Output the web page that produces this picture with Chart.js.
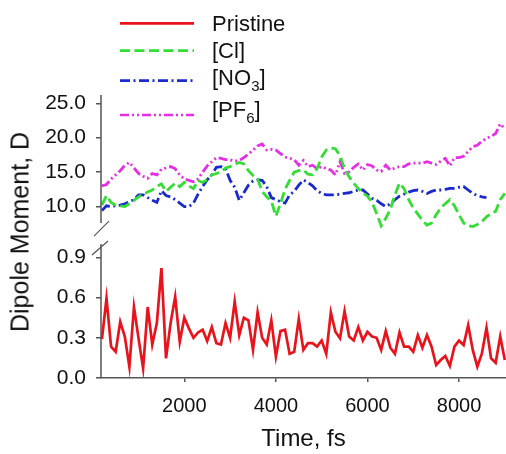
<!DOCTYPE html>
<html>
<head>
<meta charset="utf-8">
<script src="https://cdn.jsdelivr.net/npm/chart.js@4/dist/chart.umd.min.js"></script>
<style>
  html, body { margin: 0; padding: 0; background: #fff; }
  #wrap { position: relative; width: 506px; height: 454px; overflow: hidden; font-family: "Liberation Sans", Arial, sans-serif; color: #111; }
  #c { position: absolute; left: 0; top: 0; }
  .lg { position: absolute; left: 212px; font-size: 22px; line-height: 22px; white-space: nowrap; }
  .lg sub { font-size: 15px; line-height: 0; vertical-align: -6px; }
  #ytitle { position: absolute; left: 20px; top: 232px; transform: translate(-50%, -50%) rotate(-90deg); font-size: 25px; white-space: nowrap; }
  #lgsvg { position: absolute; left: 0; top: 0; }
</style>
</head>
<body>
<div id="wrap">
  <canvas id="c" width="506" height="454"></canvas>
  <svg id="lgsvg" width="506" height="140"></svg>
  <div id="legend"></div>
  <div id="ytitle">Dipole Moment, D</div>
</div>
<script>
// ---------- data ----------
const times = [
  200, 300, 400, 500, 600, 700, 800, 900, 1000, 1100,
  1200, 1300, 1400, 1500, 1600, 1700, 1800, 1900, 2000, 2100,
  2200, 2300, 2400, 2500, 2600, 2700, 2800, 2900, 3000, 3100,
  3200, 3300, 3400, 3500, 3600, 3700, 3800, 3900, 4000, 4100,
  4200, 4300, 4400, 4500, 4600, 4700, 4800, 4900, 5000, 5100,
  5200, 5300, 5400, 5500, 5600, 5700, 5800, 5900, 6000, 6100,
  6200, 6300, 6400, 6500, 6600, 6700, 6800, 6900, 7000, 7100,
  7200, 7300, 7400, 7500, 7600, 7700, 7800, 7900, 8000, 8100,
  8200, 8300, 8400, 8500, 8600, 8700, 8800, 8900, 9000
];
const pristine = [
  0.29, 0.595, 0.234, 0.196, 0.42, 0.31, 0.084, 0.53, 0.296, 0.072,
  0.53, 0.25, 0.41, 0.82, 0.147, 0.41, 0.607, 0.27, 0.45, 0.37,
  0.30, 0.34, 0.36, 0.276, 0.38, 0.26, 0.25, 0.41, 0.30, 0.57,
  0.32, 0.45, 0.43, 0.21, 0.49, 0.30, 0.25, 0.43, 0.16, 0.35,
  0.36, 0.18, 0.196, 0.44, 0.21, 0.26, 0.26, 0.234, 0.28, 0.18,
  0.49, 0.345, 0.296, 0.50, 0.31, 0.28, 0.38, 0.28, 0.345, 0.31,
  0.30, 0.21, 0.35, 0.226, 0.18, 0.34, 0.234, 0.234, 0.196, 0.32,
  0.226, 0.32, 0.234, 0.097, 0.134, 0.164, 0.09, 0.234, 0.28, 0.246,
  0.395, 0.21, 0.084, 0.184, 0.375, 0.147, 0.114, 0.31, 0.134
];
const cl = [
  10.2, 11.6, 10.6, 10.2, 10.1, 10.0, 10.4, 10.9, 11.4, 11.8,
  12.1, 12.4, 12.9, 13.3, 12.2, 12.8, 13.4, 12.9, 13.5, 13.0,
  12.6, 13.8, 13.5, 13.9, 14.6, 14.8, 15.0, 15.6, 15.8, 16.1,
  16.4, 16.2, 15.2, 14.5, 14.0, 12.2, 11.4, 10.8, 8.6, 10.4,
  12.5, 13.8, 15.0, 15.2, 15.3, 14.7, 14.6, 15.5, 17.2, 18.2,
  18.5, 18.4, 17.4, 15.5, 14.3, 13.4, 12.6, 12.0, 11.5, 10.6,
  9.0, 7.2, 8.3, 9.6, 11.7, 13.4, 12.6, 11.0, 9.8, 8.9,
  8.0, 7.3, 7.6, 8.8, 9.8, 10.4, 11.0, 10.1, 8.8, 7.6,
  7.2, 7.1, 7.4, 7.8, 8.5, 9.0, 9.3, 11.0, 11.9
];
const no3 = [
  9.4, 10.1, 10.0, 10.1, 10.2, 10.4, 10.7, 11.0, 11.7, 11.7,
  11.3, 10.9, 10.6, 12.3, 11.6, 11.4, 11.0, 10.5, 10.0, 10.0,
  10.5, 11.8, 12.9, 13.9, 14.6, 15.7, 15.8, 15.5, 13.8, 12.8,
  10.9, 12.0, 13.1, 13.7, 13.85, 13.8, 12.9, 11.3, 11.0, 10.7,
  10.5, 11.7, 12.2, 13.1, 13.85, 13.5, 13.0, 12.3, 11.9, 11.7,
  11.7, 11.7, 11.8, 11.9, 12.0, 12.2, 12.4, 12.4, 11.8, 11.2,
  10.9, 10.4, 10.0, 10.4, 11.0, 11.5, 11.8, 12.1, 12.3, 12.4,
  12.2, 11.9, 12.2, 12.4, 12.4, 12.5, 12.65, 12.65, 12.8, 12.9,
  12.4, 11.9, 11.6, 11.4, 11.3
];
const pf6 = [
  13.0, 13.2, 14.0, 14.6, 15.2, 16.0, 16.4, 15.6, 14.8, 14.4,
  14.1, 14.8, 14.6, 15.4, 15.6, 15.8, 15.5, 14.6, 14.0, 13.8,
  13.6, 14.0, 15.0, 15.9, 16.5, 17.1, 17.0, 16.8, 16.8, 16.6,
  16.7, 17.1, 17.6, 18.2, 18.8, 19.1, 18.2, 18.3, 18.2, 17.7,
  17.2, 17.0, 16.8, 16.0, 16.7, 15.8, 16.0, 15.5, 15.8, 15.5,
  15.3, 14.6, 16.5, 14.8, 15.05, 15.7, 16.2, 15.3, 16.1, 15.9,
  15.3, 15.1, 16.0, 15.3, 15.6, 15.8, 15.8, 16.2, 16.3, 16.3,
  16.3, 16.5, 16.3, 16.1, 16.6, 17.0, 15.9, 17.1, 17.1, 17.3,
  18.0, 18.7, 18.9, 19.5, 19.9, 20.2, 20.6, 22.0, 21.3
];
const xTicks = [2000, 4000, 6000, 8000];
const yTopTicks = [10, 15, 20, 25];
const yBotTicks = [0, 0.3, 0.6, 0.9];
const seriesNames = ['Pristine', '[Cl]', '[NO<sub>3</sub>]', '[PF<sub>6</sub>]'];

// ---------- styles ----------
const FONT = '"Liberation Sans", Arial, sans-serif';
const colors = ['#e8141c', '#33dd33', '#1a2acc', '#e62ee6'];
const widths = [2.7, 2.8, 2.8, 2.8];
const dashes = [[], [10, 4.5], [10, 3.5, 2, 3.5], [9, 3, 2, 3, 2, 3]];
const pts = (ys) => ys.map((y, i) => ({ x: times[i], y: y }));

const brokenAxis = {
  id: 'brokenAxis',
  afterDraw(chart) {
    const ctx = chart.ctx;
    const t = chart.scales.yTop, b = chart.scales.yBot;
    const x = chart.chartArea.left;
    const topEnd = t.getPixelForValue(7.6);
    const botStart = b.getPixelForValue(1.0);
    ctx.save();
    ctx.strokeStyle = '#555';
    ctx.lineWidth = 1.5;
    ctx.beginPath();
    ctx.moveTo(x, t.top);
    ctx.lineTo(x, topEnd);
    ctx.moveTo(x, botStart);
    ctx.lineTo(x, b.bottom);
    ctx.stroke();
    ctx.lineWidth = 1.2;
    ctx.beginPath();
    ctx.moveTo(x - 7, topEnd + 13);
    ctx.lineTo(x + 8, topEnd - 2);
    ctx.moveTo(x - 9, botStart + 11);
    ctx.lineTo(x + 7, botStart - 3);
    ctx.stroke();
    ctx.restore();
  }
};

const yCommon = {
  type: 'linear',
  position: 'left',
  stack: 'y',
  afterFit: (s) => { s.width = 101; },
  grid: { display: true, drawOnChartArea: false, drawTicks: true, tickLength: 5, color: '#555', lineWidth: 1.5 },
  border: { display: false },
  ticks: { font: { size: 21, family: FONT }, color: '#111', padding: 10, callback: (v) => Number(v).toFixed(1) }
};

new Chart(document.getElementById('c'), {
  type: 'line',
  data: {
    datasets: [
      { label: 'Pristine', data: pts(pristine), yAxisID: 'yBot', borderColor: colors[0], borderWidth: widths[0], borderDash: dashes[0] },
      { label: '[Cl]', data: pts(cl), yAxisID: 'yTop', borderColor: colors[1], borderWidth: widths[1], borderDash: dashes[1] },
      { label: '[NO3]', data: pts(no3), yAxisID: 'yTop', borderColor: colors[2], borderWidth: widths[2], borderDash: dashes[2] },
      { label: '[PF6]', data: pts(pf6), yAxisID: 'yTop', borderColor: colors[3], borderWidth: widths[3], borderDash: dashes[3] }
    ]
  },
  options: {
    responsive: false,
    animation: false,
    layout: { padding: { top: 95, right: 0, bottom: 0, left: 0 } },
    elements: { point: { radius: 0 }, line: { tension: 0, fill: false } },
    plugins: { legend: { display: false }, tooltip: { enabled: false } },
    scales: {
      x: {
        type: 'linear', position: 'bottom', min: 180, max: 9026,
        afterBuildTicks: (s) => { s.ticks = xTicks.map(v => ({ value: v })); },
        afterFit: (s) => { s.height = 76; },
        grid: { display: true, drawOnChartArea: false, tickLength: 4, color: '#555', lineWidth: 1.5 },
        border: { display: true, color: '#555', width: 1.5 },
        ticks: { font: { size: 20, family: FONT }, color: '#111', padding: 12, maxRotation: 0, callback: (v) => String(v) },
        title: { display: true, text: 'Time, fs', font: { size: 24, family: FONT }, color: '#111', padding: { top: 0, bottom: 0 } }
      },
      yBot: Object.assign({}, yCommon, {
        min: 0, max: 1.09, stackWeight: 146,
        afterBuildTicks: (s) => { s.ticks = yBotTicks.map(v => ({ value: v })); }
      }),
      yTop: Object.assign({}, yCommon, {
        min: 6.3, max: 26.2, stackWeight: 137,
        afterBuildTicks: (s) => { s.ticks = yTopTicks.map(v => ({ value: v })); }
      })
    }
  },
  plugins: [brokenAxis]
});

// ---------- legend (HTML/SVG overlay) ----------
const lineY = [23.3, 50.7, 80.7, 115];
const textY = [23.3, 51, 78, 110];
const svg = document.getElementById('lgsvg');
const leg = document.getElementById('legend');
seriesNames.forEach((name, i) => {
  const ln = document.createElementNS('http://www.w3.org/2000/svg', 'line');
  ln.setAttribute('x1', 120); ln.setAttribute('x2', 194);
  ln.setAttribute('y1', lineY[i]); ln.setAttribute('y2', lineY[i]);
  ln.setAttribute('stroke', colors[i]); ln.setAttribute('stroke-width', 2.7);
  if (dashes[i].length) ln.setAttribute('stroke-dasharray', dashes[i].join(' '));
  svg.appendChild(ln);
  const d = document.createElement('div');
  d.className = 'lg';
  d.style.top = (textY[i] - 10.7) + 'px';
  d.innerHTML = name;
  leg.appendChild(d);
});
</script>
</body>
</html>
